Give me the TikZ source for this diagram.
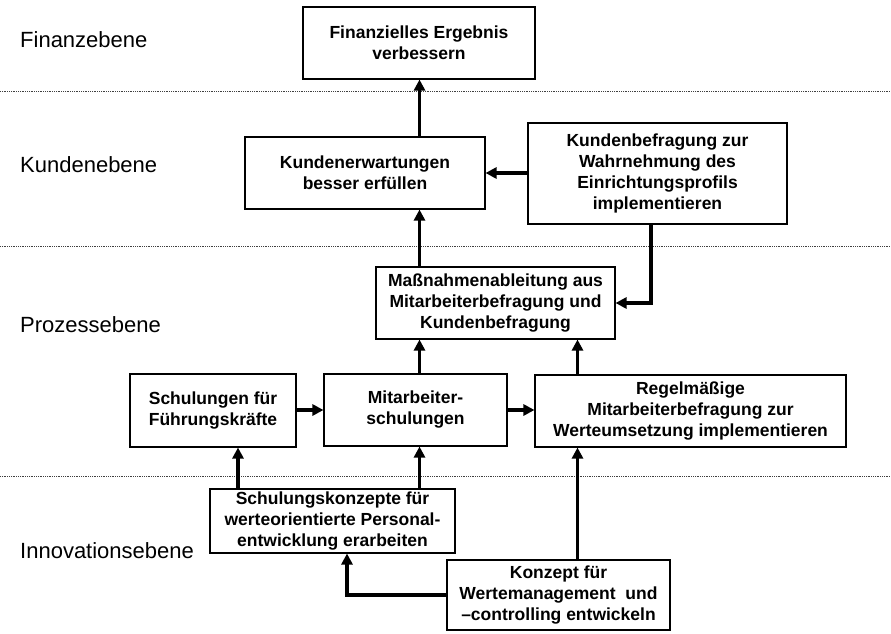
\documentclass[tikz,border=0pt]{standalone}
\usepackage{fontspec}
\setmainfont{Liberation Sans}
\usetikzlibrary{arrows.meta,calc}
\begin{document}
\begin{tikzpicture}[x=1pt,y=-1pt,
  box/.style={draw=black,line width=1.1pt,fill=white,inner sep=0pt,align=center,
    font=\fontsize{17.5}{21}\selectfont\bfseries},
  lvl/.style={anchor=base west,inner sep=0pt,font=\fontsize{22}{26}\selectfont},
  arr/.style={line width=3.4pt,-{Triangle[length=11pt,width=11pt]}},
  sep/.style={densely dotted,line width=0.8pt,black!75}]
\useasboundingbox (0,0) rectangle (891,634);
\fill[white] (0,0) rectangle (891,634);

% separators
\coordinate (L1a) at (0,91);  \coordinate (L1b) at (891,91);
\coordinate (L2a) at (0,246); \coordinate (L2b) at (891,246);
\coordinate (L3a) at (0,476); \coordinate (L3b) at (891,476);
\draw[sep] (L1a) -- (L1b);
\draw[sep] (L2a) -- (L2b);
\draw[sep] (L3a) -- (L3b);

% level labels
\node[lvl] (lF) at (20,48)  {Finanzebene};
\node[lvl] (lK) at (20,172) {Kundenebene};
\node[lvl] (lP) at (20,332) {Prozessebene};
\node[lvl] (lI) at (20,558) {Innovationsebene};

% boxes
\node[box,minimum width=232pt,minimum height=72pt]  (F)  at (419,43)    {Finanzielles Ergebnis\\verbessern};
\node[box,minimum width=240pt,minimum height=72pt]  (KE) at (365,173)   {Kundenerwartungen\\besser erfüllen};
\node[box,minimum width=259pt,minimum height=101pt] (KB) at (657.5,173.5) {Kundenbefragung zur\\Wahrnehmung des\\Einrichtungsprofils\\implementieren};
\node[box,minimum width=239pt,minimum height=72pt]  (M)  at (495.5,303) {Maßnahmenableitung aus\\Mitarbeiterbefragung und\\Kundenbefragung};
\node[box,minimum width=166pt,minimum height=73pt]  (S)  at (213,410.5) {Schulungen für\\Führungskräfte};
\node[box,minimum width=183pt,minimum height=72pt]  (MS) at (415.5,410) {Mitarbeiter-\\schulungen};
\node[box,minimum width=311pt,minimum height=72pt]  (R)  at (690.5,411) {Regelmäßige\\Mitarbeiterbefragung zur\\Werteumsetzung implementieren};
\node[box,minimum width=245pt,minimum height=64pt]  (SK) at (332.5,521) {Schulungskonzepte für\\werteorientierte Personal-\\entwicklung erarbeiten};
\node[box,minimum width=223pt,minimum height=70pt]  (K)  at (558.5,595) {Konzept für\\Wertemanagement\ \ und\\–controlling entwickeln};

% column coordinates
\coordinate (cMid) at (419.5,0);
\coordinate (cR)   at (577.5,0);
\coordinate (cS)   at (238,0);
\coordinate (cKB)  at (651,0);
\coordinate (cSK)  at (347,0);

% connectors
\draw[arr] (KE.north -| cMid) -- (F.south -| cMid);
\draw[arr] (KB.west |- KE.east) -- (KE.east);
\draw[arr] (M.north -| cMid) -- (KE.south -| cMid);
\draw[arr] (KB.south -| cKB) |- (M.east);
\draw[arr] (MS.north -| cMid) -- (M.south -| cMid);
\draw[arr] (R.north -| cR) -- (M.south -| cR);
\draw[arr] (S.east |- MS.east) -- (MS.west |- MS.east);
\draw[arr] (MS.east) -- (R.west |- MS.east);
\draw[arr] (SK.north -| cS) -- (S.south -| cS);
\draw[arr] (SK.north -| cMid) -- (MS.south -| cMid);
\draw[arr] (K.north -| cR) -- (R.south -| cR);
\draw[arr] (K.west) -| (SK.south -| cSK);
\end{tikzpicture}
\end{document}
